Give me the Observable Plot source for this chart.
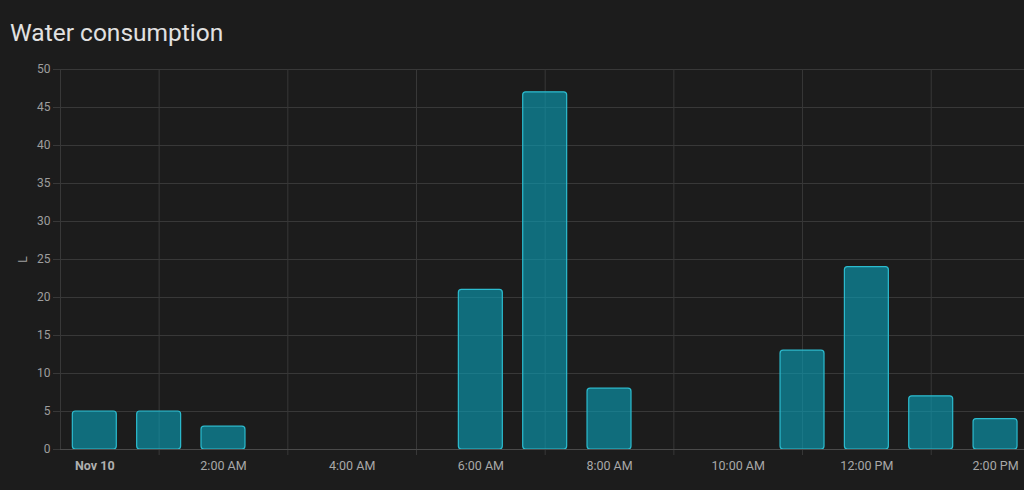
<!DOCTYPE html>
<html>
<head>
<meta charset="utf-8">
<script src="https://cdn.jsdelivr.net/npm/d3@7"></script>
<script src="https://cdn.jsdelivr.net/npm/@observablehq/plot@0.6"></script>
<style>
  html, body { margin: 0; padding: 0; background: #1c1c1c; }
  #title { height: 58px; box-sizing: border-box; padding: 19px 0 0 10px; font: 400 24.5px Roboto, sans-serif; color: #e1e1e1; line-height: 28px; }
  #chart svg { display: block; }
</style>
</head>
<body>
<div id="title">Water consumption</div>
<div id="chart"></div>
<script>
// Data
const day = [2023, 10, 10]; // Nov 10
const hours = [0, 1, 2, 6, 7, 8, 11, 12, 13, 14];
const liters = [5, 5, 3, 21, 47, 8, 13, 24, 7, 4];
const yTicks = [0, 5, 10, 15, 20, 25, 30, 35, 40, 45, 50];
const labelHours = [0, 2, 4, 6, 8, 10, 12, 14];
const labelTexts = ["Nov 10", "2:00 AM", "4:00 AM", "6:00 AM", "8:00 AM", "10:00 AM", "12:00 PM", "2:00 PM"];
const gridHours = [1, 3, 5, 7, 9, 11, 13];

const at = (h, m = 0) => new Date(day[0], day[1], day[2], h, m);
const data = hours.map((h, i) => ({time: at(h), value: liters[i]}));
const halfBar = 20.5 * 60 * 1000;

const gridColor = "#383838";
const textColor = "#9e9e9e";
const font = "Roboto, sans-serif";

const chart = Plot.plot({
  width: 1024,
  height: 432,
  marginTop: 11,
  marginBottom: 41,
  marginLeft: 60,
  marginRight: 0,
  style: {background: "#1c1c1c", fontFamily: font, fontSize: "12px", color: textColor},
  x: {type: "time", domain: [at(-1, 28.3), at(14, 27)]},
  y: {domain: [0, 50]},
  marks: [
    Plot.ruleY(yTicks.filter(d => d > 0), {stroke: gridColor, strokeWidth: 1}),
    Plot.gridX(gridHours.map(h => at(h)), {stroke: gridColor, strokeOpacity: 1}),
    Plot.axisY(yTicks, {tickSize: 7, tickPadding: 3, stroke: gridColor, fill: textColor, fontSize: 12,
      label: "L", labelAnchor: "center", labelOffset: 42, labelArrow: "none"}),
    Plot.axisX(gridHours.map(h => at(h)), {tickSize: 6, tickFormat: () => "", stroke: gridColor}),
    Plot.axisX([at(labelHours[0])], {tickSize: 0, tickPadding: 12, fill: "#b0b0b0", fontWeight: "bold",
      fontSize: 12.5, tickFormat: () => labelTexts[0], label: null}),
    Plot.axisX(labelHours.slice(1).map(h => at(h)), {tickSize: 0, tickPadding: 12, fill: "#a8a8a8",
      fontSize: 12.5, tickFormat: (d) => labelTexts[labelHours.indexOf(d.getHours())], label: null}),
    Plot.ruleX([at(-1, 28.3)], {stroke: gridColor}),
    Plot.rectY(data, {
      x1: d => new Date(+d.time - halfBar),
      x2: d => new Date(+d.time + halfBar),
      y1: 0,
      y2: "value",
      fill: "#0aa0b8",
      fillOpacity: 0.62,
      stroke: "#2cbccf",
      strokeWidth: 1.2,
      rx: 3
    }),
    Plot.ruleY([0], {stroke: "#4a4a4a"})
  ]
});
document.getElementById("chart").appendChild(chart);
</script>
</body>
</html>
